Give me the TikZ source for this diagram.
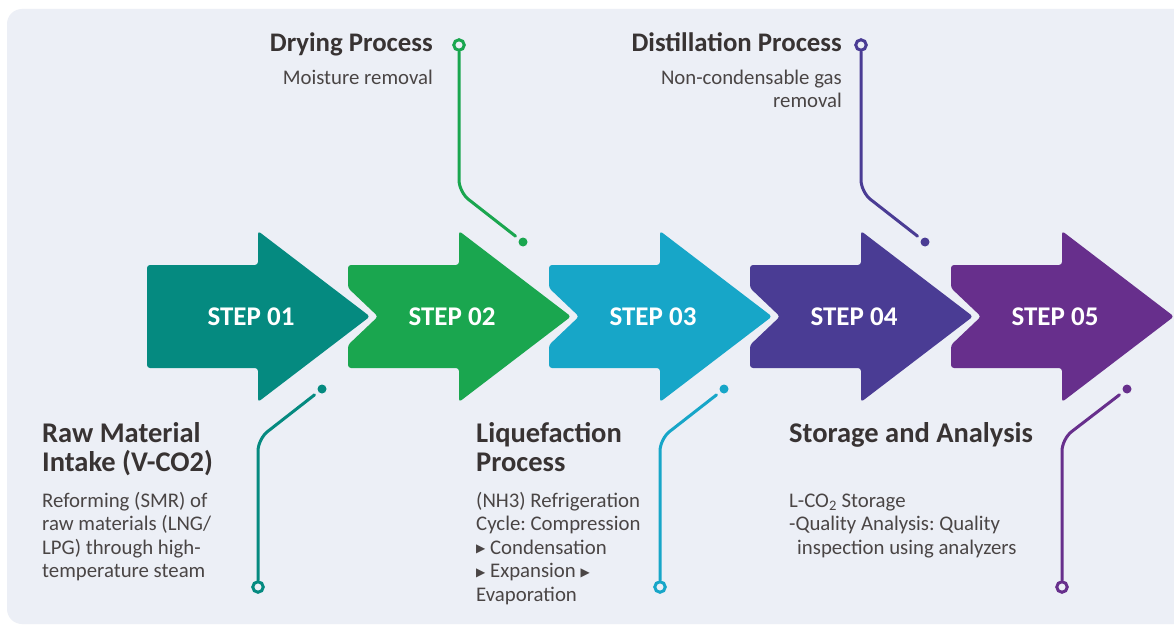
\documentclass[tikz,border=0pt]{standalone}
\usepackage{fontspec}
\setmainfont{Carlito}
\newfontfamily\symfont{DejaVu Sans}
\usetikzlibrary{positioning}
\frenchspacing

\definecolor{panelbg}{HTML}{ECEFF6}
\definecolor{titlegray}{HTML}{383333}
\definecolor{bodygray}{HTML}{4A4545}
\definecolor{stepone}{HTML}{058A80}
\definecolor{steptwo}{HTML}{1AA64F}
\definecolor{stepthree}{HTML}{17A6C8}
\definecolor{stepfour}{HTML}{4A3C94}
\definecolor{stepfive}{HTML}{672F8C}

\tikzset{every node/.style={inner sep=0pt}}
\tikzset{steplabel/.style={text=white, font=\bfseries\fontsize{27}{30}\selectfont}}
\tikzset{ttl/.style={text=titlegray, font=\bfseries\fontsize{26.8}{29}\selectfont, align=left}}
\tikzset{ttlb/.style={ttl, font=\bfseries\fontsize{28.5}{29}\selectfont}}
\tikzset{txt/.style={text=bodygray, font=\frenchspacing\fontsize{20.8}{23.5}\selectfont, align=left}}
\tikzset{ring/.style={circle, draw=#1, line width=3pt, fill=panelbg, minimum size=10.5pt}}
\tikzset{dot/.style={circle, fill=#1, minimum size=9pt, outer sep=5pt}}
\tikzset{leader/.style={draw=#1, line width=3pt, rounded corners=12pt, line cap=round}}
\newcommand{\tri}{\raisebox{1.2pt}{\symfont\fontsize{12}{23.5}\selectfont ▶}}

\begin{document}
\begin{tikzpicture}[x=1pt, y=-1pt]
  \useasboundingbox (0,0) rectangle (1174,626);
  \fill[white] (0,0) rectangle (1174,626);
  \fill[panelbg, rounded corners=15pt] (7,9) rectangle (1200,624);

  % arrows
  \foreach \i/\col/\lab in {0/stepone/01, 1/steptwo/02, 2/stepthree/03, 3/stepfour/04, 4/stepfive/05}{
    \pgfmathsetmacro{\L}{147+201*\i}
    \pgfmathsetmacro{\nd}{\i==0 ? 0 : 30}
    \fill[\col, rounded corners=3pt] (\L,265) -- ({\L+111},265) -- ({\L+111},231)
      -- ({\L+223},316.5) -- ({\L+111},402) -- ({\L+111},368) -- (\L,368)
      -- (\L,345) -- ({\L+\nd},316.5) -- (\L,288) -- cycle;
    \node[steplabel] (s\lab) at ({\L+104},317) {STEP \lab};
  }

  % leaders above
  \node[ring=steptwo] (r2) at (459,45) {};
  \node[dot=steptwo] (d2) at (523,242) {};
  \draw[leader=steptwo] (r2) -- (459,192) -- (d2);
  \node[ring=stepfour] (r4) at (861,45) {};
  \node[dot=stepfour] (d4) at (925,242) {};
  \draw[leader=stepfour] (r4) -- (861,192) -- (d4);

  % leaders below
  \node[ring=stepone] (r1) at (258,587) {};
  \node[dot=stepone] (d1) at (322,389) {};
  \draw[leader=stepone] (r1) -- (258,439) -- (d1);
  \node[ring=stepthree] (r3) at (660,587) {};
  \node[dot=stepthree] (d3) at (724,389) {};
  \draw[leader=stepthree] (r3) -- (660,439) -- (d3);
  \node[ring=stepfive] (r5) at (1062,587) {};
  \node[dot=stepfive] (d5) at (1127,389) {};
  \draw[leader=stepfive] (r5) -- (1062,439) -- (d5);

  % texts (base = last line)
  \node[ttl, anchor=base east] (dryttl) at (433,52) {Drying Process};
  \node[txt, anchor=base east] (drytxt) at ([yshift=-32pt]dryttl.base east) {Moisture removal};
  \node[ttl, anchor=base east] (distttl) at (842,52) {Distillation Process};
  \node[txt, anchor=base east, align=right] (disttxt) at ([yshift=-55.5pt]distttl.base east) {Non-condensable gas\\removal};

  \node[ttlb, anchor=base west] (rawttl) at (42,471) {Raw Material\\Intake (V-CO2)};
  \node[txt, anchor=base west] (rawtxt) at (42,577.5) {Reforming (SMR) of\\raw materials (LNG/\\LPG) through high-\\temperature steam};
  \node[ttlb, anchor=base west] (liqttl) at (476,471) {Liquefaction\\Process};
  \node[txt, anchor=base west] (liqtxt) at (476,601) {(NH3) Refrigeration\\Cycle: Compression\\\tri{} Condensation\\\tri{} Expansion \tri\\Evaporation};
  \node[ttlb, anchor=base west] (stottl) at (789,442) {Storage and Analysis};
  \node[txt, anchor=base west] (stotxt) at (789,554) {L-CO\textsubscript{2} Storage\\-Quality Analysis: Quality\\\hspace*{8pt}inspection using analyzers};
\end{tikzpicture}
\end{document}
